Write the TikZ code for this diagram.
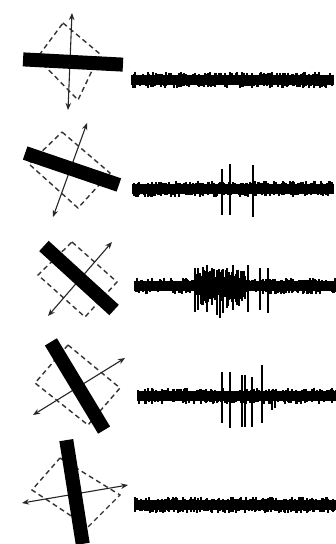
\documentclass[tikz,border=0pt]{standalone}
\usetikzlibrary{arrows.meta}
\tikzset{
  bar/.style={fill=black},
  pol/.style={draw=black!85, line width=1.1pt, {Stealth[length=7pt,width=5.5pt]}-{Stealth[length=7pt,width=5.5pt]}},
  sample/.style={draw=black!80, line width=1.4pt, dash pattern=on 5pt off 3.5pt},
  trace/.style={line width=1.2pt, black},
  spike/.style={line width=1.8pt, black}
}
\newcommand\noisetrace[3]{%
  \fill[black] (#1,#3-5) rectangle (#2,#3+5);
  \foreach \x in {#1,...,#2} {
    \pgfmathsetmacro\ta{4.5+4*rnd^3}
    \pgfmathsetmacro\tb{4.5+4*rnd^3}
    \draw[trace] (\x,#3-\ta) -- (\x,#3+\tb);
  }%
}
\newcommand\polbar{}
\renewcommand\polbar[4]{%
  \begin{scope}[shift={(#1,#2)},rotate=#3]
    \fill[bar] (-#4/2,-7) rectangle (#4/2,7);
  \end{scope}%
}
\begin{document}
\begin{tikzpicture}[x=1pt,y=-1pt]
\useasboundingbox (0,0) rectangle (336,544);
\clip (0,0) rectangle (336,544);
\fill[white] (0,0) rectangle (336,544);
\pgfmathsetseed{1234}

% ---------- row 1 ----------
\draw[sample] (63,23) -- (100,54) -- (78,100) -- (37,58) -- cycle;
\draw[pol] (72,13) -- (68,110);
\polbar{73}{62}{-3}{100}
\noisetrace{132}{333}{80}

% ---------- row 2 ----------
\draw[sample] (62,132) -- (110,173) -- (78,208) -- (29,164) -- cycle;
\draw[pol] (87,123) -- (53,217);
\polbar{72}{169}{-18.8}{99}
\noisetrace{133}{333}{189}
\foreach \sx/\st/\sb in {222/169/215, 230/164/215, 253/165/217}
  \draw[spike] (\sx,\st) -- (\sx,\sb);

% ---------- row 3 ----------
\draw[sample] (72,242) -- (117,282) -- (85,317) -- (38,275) -- cycle;
\draw[pol] (112,242) -- (48,316);
\polbar{79}{278}{-42.4}{95}
\noisetrace{135}{336}{286}
\foreach \sx/\st/\sb in {195/268/312, 198/268/310, 203/267/305, 207/265/312,
  212/268/305, 217/270/315, 220/272/318, 223/270/313, 227/268/308,
  233/265/310, 237/270/305, 248/265/312, 260/268/310, 268/268/313}
  \draw[spike] (\sx,\st) -- (\sx,\sb);
\foreach \x in {196,...,245} {
  \pgfmathsetmacro\ta{7+10*rnd}
  \pgfmathsetmacro\tb{7+14*rnd}
  \draw[trace] (\x,286-\ta) -- (\x,286+\tb);
}

% ---------- row 4 ----------
\draw[sample] (68,345) -- (120,388) -- (88,425) -- (35,383) -- cycle;
\draw[pol] (125,358) -- (33,415);
\polbar{77.5}{386}{-58.9}{103}
\noisetrace{138}{336}{396}
\foreach \sx/\st/\sb in {222/372/423, 230/372/428, 242/375/427, 245/375/427,
  252/377/427, 262/365/423, 272/390/410, 275/392/408}
  \draw[spike] (\sx,\st) -- (\sx,\sb);

% ---------- row 5 ----------
\draw[sample] (60,458) -- (120,495) -- (88,527) -- (32,490) -- cycle;
\draw[pol] (128,485) -- (22,503);
\polbar{74.5}{492}{-81}{105}
\noisetrace{135}{336}{505}
\end{tikzpicture}
\end{document}
